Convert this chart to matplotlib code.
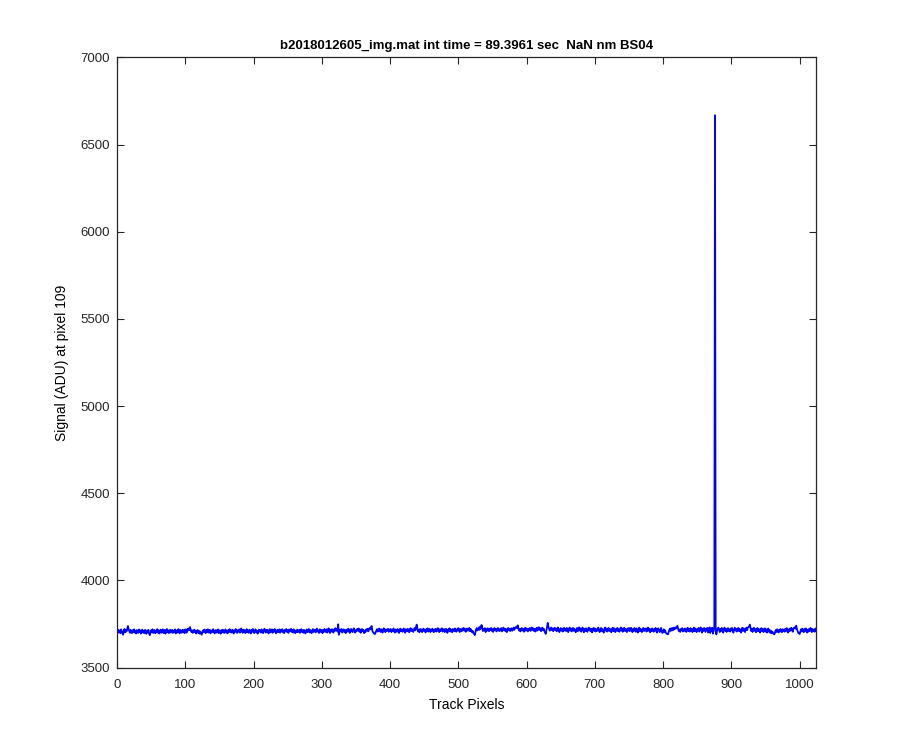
"""MATLAB-style track plot: signal at pixel 109 vs track pixel -> out.png"""

import numpy as np
import matplotlib
matplotlib.use("Agg")
import matplotlib.pyplot as plt

TITLE = "b2018012605_img.mat int time = 89.3961 sec  NaN nm BS04"
XLABEL = "Track Pixels"
YLABEL = "Signal (ADU) at pixel 109"
XTICKS = [0, 100, 200, 300, 400, 500, 600, 700, 800, 900, 1000]
YTICKS = [3500, 4000, 4500, 5000, 5500, 6000, 6500, 7000]

# signal, one value per track pixel (1..1024)
signal = [
    3700, 3716, 3703, 3712, 3696, 3719, 3706, 3698, 3688, 3713, 3721, 3702, 3715, 3707, 3722, 3738,
    3720, 3710, 3699, 3716, 3705, 3697, 3714, 3704, 3719, 3700, 3711, 3695, 3715, 3706, 3698, 3718,
    3703, 3713, 3694, 3709, 3717, 3700, 3711, 3697, 3716, 3705, 3693, 3712, 3701, 3716, 3696, 3686,
    3697, 3713, 3704, 3719, 3698, 3709, 3715, 3696, 3711, 3702, 3720, 3700, 3713, 3695, 3708, 3717,
    3700, 3711, 3719, 3697, 3706, 3716, 3694, 3709, 3721, 3702, 3713, 3697, 3711, 3717, 3700, 3708,
    3716, 3698, 3711, 3703, 3719, 3695, 3708, 3713, 3700, 3720, 3705, 3696, 3715, 3707, 3699, 3717,
    3705, 3713, 3697, 3719, 3708, 3700, 3721, 3712, 3724, 3714, 3732, 3716, 3704, 3713, 3699, 3710,
    3717, 3702, 3712, 3695, 3708, 3715, 3699, 3711, 3694, 3706, 3697, 3688, 3700, 3713, 3703, 3718,
    3708, 3697, 3715, 3705, 3719, 3700, 3711, 3716, 3696, 3709, 3713, 3703, 3720, 3706, 3695, 3711,
    3715, 3700, 3708, 3719, 3697, 3713, 3705, 3694, 3711, 3717, 3702, 3715, 3698, 3708, 3719, 3700,
    3711, 3696, 3715, 3705, 3720, 3703, 3712, 3700, 3717, 3707, 3695, 3713, 3704, 3721, 3710, 3698,
    3715, 3706, 3719, 3700, 3712, 3724, 3709, 3699, 3717, 3704, 3714, 3697, 3710, 3720, 3702, 3712,
    3699, 3717, 3707, 3695, 3715, 3704, 3721, 3709, 3697, 3712, 3719, 3702, 3710, 3694, 3707, 3717,
    3705, 3714, 3700, 3719, 3708, 3697, 3712, 3722, 3709, 3700, 3716, 3704, 3715, 3695, 3710, 3720,
    3702, 3712, 3719, 3699, 3714, 3707, 3721, 3704, 3696, 3712, 3716, 3702, 3709, 3719, 3700, 3714,
    3707, 3720, 3702, 3712, 3697, 3716, 3709, 3721, 3704, 3714, 3699, 3718, 3707, 3712, 3722, 3704,
    3715, 3700, 3719, 3707, 3697, 3712, 3704, 3717, 3702, 3710, 3716, 3699, 3708, 3720, 3704, 3713,
    3699, 3716, 3707, 3695, 3712, 3718, 3703, 3711, 3721, 3701, 3715, 3707, 3697, 3713, 3720, 3704,
    3710, 3717, 3701, 3715, 3723, 3706, 3712, 3698, 3719, 3709, 3703, 3716, 3697, 3714, 3706, 3721,
    3704, 3712, 3719, 3700, 3715, 3725, 3709, 3698, 3717, 3706, 3720, 3711, 3700, 3718, 3709, 3726,
    3714, 3721, 3706, 3748, 3688, 3703, 3718, 3709, 3721, 3700, 3713, 3719, 3705, 3716, 3697, 3711,
    3718, 3706, 3723, 3711, 3698, 3716, 3721, 3708, 3703, 3718, 3725, 3710, 3700, 3715, 3708, 3721,
    3713, 3724, 3706, 3718, 3699, 3712, 3721, 3708, 3716, 3697, 3711, 3703, 3719, 3713, 3722, 3707,
    3717, 3726, 3719, 3730, 3738, 3712, 3702, 3698, 3694, 3692, 3703, 3712, 3720, 3706, 3715, 3724,
    3714, 3704, 3720, 3711, 3700, 3718, 3725, 3712, 3703, 3719, 3709, 3715, 3722, 3705, 3718, 3710,
    3721, 3703, 3715, 3708, 3724, 3712, 3700, 3718, 3710, 3705, 3720, 3713, 3698, 3716, 3723, 3708,
    3718, 3705, 3713, 3724, 3710, 3699, 3720, 3712, 3707, 3722, 3714, 3702, 3718, 3726, 3709, 3721,
    3712, 3704, 3719, 3727, 3713, 3730, 3746, 3722, 3707, 3717, 3702, 3721, 3709, 3719, 3703, 3714,
    3723, 3709, 3717, 3701, 3719, 3711, 3725, 3706, 3714, 3721, 3703, 3717, 3710, 3723, 3712, 3702,
    3718, 3709, 3722, 3706, 3714, 3726, 3711, 3703, 3720, 3709, 3717, 3725, 3706, 3714, 3721, 3703,
    3713, 3722, 3709, 3699, 3718, 3712, 3725, 3706, 3719, 3711, 3702, 3721, 3714, 3708, 3724, 3716,
    3705, 3719, 3712, 3726, 3716, 3703, 3721, 3713, 3708, 3724, 3715, 3727, 3711, 3721, 3705, 3719,
    3724, 3711, 3719, 3727, 3708, 3721, 3714, 3702, 3710, 3698, 3694, 3686, 3703, 3718, 3726, 3712,
    3720, 3730, 3716, 3734, 3724, 3744, 3728, 3709, 3722, 3713, 3726, 3703, 3719, 3711, 3725, 3716,
    3708, 3723, 3715, 3727, 3710, 3720, 3704, 3718, 3726, 3713, 3722, 3707, 3717, 3727, 3714, 3709,
    3721, 3712, 3726, 3707, 3718, 3729, 3714, 3723, 3708, 3720, 3703, 3717, 3727, 3713, 3722, 3709,
    3717, 3725, 3711, 3720, 3729, 3716, 3724, 3730, 3734, 3726, 3742, 3724, 3712, 3722, 3707, 3719,
    3726, 3713, 3721, 3705, 3717, 3728, 3711, 3724, 3716, 3707, 3722, 3714, 3727, 3710, 3719, 3729,
    3715, 3724, 3709, 3721, 3706, 3719, 3728, 3712, 3723, 3731, 3716, 3725, 3708, 3721, 3729, 3714,
    3723, 3709, 3702, 3693, 3712, 3732, 3756, 3734, 3722, 3711, 3720, 3729, 3714, 3724, 3708, 3722,
    3728, 3714, 3724, 3707, 3720, 3730, 3716, 3703, 3717, 3726, 3711, 3723, 3706, 3718, 3728, 3712,
    3722, 3709, 3727, 3715, 3703, 3719, 3729, 3712, 3724, 3707, 3716, 3727, 3710, 3722, 3713, 3702,
    3716, 3727, 3708, 3721, 3730, 3712, 3724, 3705, 3719, 3729, 3714, 3702, 3722, 3709, 3725, 3715,
    3705, 3719, 3729, 3712, 3724, 3708, 3722, 3701, 3716, 3727, 3711, 3724, 3706, 3719, 3709, 3722,
    3729, 3712, 3703, 3718, 3727, 3708, 3721, 3715, 3700, 3719, 3729, 3711, 3724, 3706, 3716, 3727,
    3709, 3722, 3713, 3702, 3719, 3728, 3708, 3725, 3714, 3703, 3722, 3712, 3727, 3708, 3719, 3705,
    3722, 3730, 3711, 3724, 3705, 3718, 3728, 3709, 3721, 3715, 3703, 3724, 3712, 3727, 3708, 3719,
    3728, 3712, 3703, 3721, 3709, 3727, 3715, 3705, 3724, 3711, 3700, 3719, 3729, 3708, 3722, 3714,
    3703, 3718, 3727, 3709, 3722, 3712, 3725, 3706, 3716, 3729, 3711, 3721, 3702, 3719, 3709, 3724,
    3715, 3705, 3721, 3712, 3727, 3708, 3700, 3718, 3725, 3712, 3703, 3716, 3727, 3708, 3698, 3706,
    3719, 3704, 3713, 3699, 3694, 3692, 3690, 3702, 3714, 3723, 3710, 3725, 3712, 3727, 3715, 3729,
    3720, 3730, 3724, 3732, 3739, 3722, 3709, 3718, 3704, 3721, 3713, 3726, 3706, 3719, 3710, 3724,
    3713, 3704, 3721, 3728, 3709, 3718, 3706, 3726, 3713, 3721, 3703, 3716, 3729, 3708, 3724, 3715,
    3703, 3721, 3712, 3727, 3706, 3719, 3730, 3713, 3700, 3722, 3710, 3727, 3716, 3704, 3724, 3712,
    3727, 3701, 3718, 3730, 3698, 3724, 3711, 3728, 3694, 3716, 3731, 6668, 3710, 3690, 3711, 3724,
    3729, 3715, 3703, 3721, 3709, 3727, 3713, 3700, 3719, 3729, 3710, 3722, 3704, 3716, 3726, 3709,
    3719, 3706, 3724, 3713, 3727, 3708, 3700, 3718, 3728, 3712, 3722, 3706, 3716, 3727, 3709, 3721,
    3712, 3700, 3718, 3728, 3709, 3724, 3715, 3703, 3722, 3729, 3714, 3728, 3732, 3737, 3746, 3727,
    3709, 3723, 3704, 3718, 3728, 3711, 3721, 3702, 3716, 3727, 3708, 3722, 3713, 3700, 3718, 3726,
    3708, 3722, 3703, 3716, 3725, 3706, 3719, 3700, 3713, 3724, 3705, 3716, 3699, 3711, 3697, 3706,
    3697, 3693, 3690, 3702, 3715, 3704, 3719, 3709, 3701, 3717, 3706, 3721, 3711, 3702, 3719, 3709,
    3718, 3705, 3721, 3711, 3726, 3709, 3700, 3719, 3708, 3724, 3712, 3728, 3716, 3705, 3722, 3729,
    3731, 3723, 3740, 3720, 3708, 3699, 3696, 3692, 3705, 3719, 3707, 3723, 3713, 3702, 3720, 3709,
    3724, 3712, 3700, 3717, 3706, 3722, 3710, 3727, 3714, 3703, 3721, 3709, 3716, 3705, 3724, 3712,
]
pixels = np.arange(1, len(signal) + 1)

DARK = "#262626"
plt.rcParams.update({"font.family": ["Liberation Sans", "DejaVu Sans"], "font.size": 9.5,
                     "axes.edgecolor": DARK, "xtick.color": DARK, "ytick.color": DARK,
                     "text.color": "black"})

fig = plt.figure(figsize=(9, 7.5), dpi=100, facecolor="white")
ax = fig.add_axes([0.13, 0.11, 0.7767, 0.8135])
ax.plot(pixels, signal, color="#0000FF", lw=1.3)

ax.set_xlim(0, 1024)
ax.set_ylim(3500, 7000)
ax.set_xticks(XTICKS)
ax.set_yticks(YTICKS)
ax.tick_params(direction="in", length=5, width=0.8, top=True, right=True, labelsize=9.5)
ax.tick_params(axis="x", pad=8)
ax.tick_params(axis="y", pad=5)
for s in ax.spines.values():
    s.set_linewidth(0.9)

ax.set_title(TITLE, fontsize=9.5, fontweight="bold", pad=6)
ax.set_xlabel(XLABEL, fontsize=10, labelpad=5)
ax.set_ylabel(YLABEL, fontsize=10, labelpad=8)

fig.savefig("out.png", facecolor="white")
